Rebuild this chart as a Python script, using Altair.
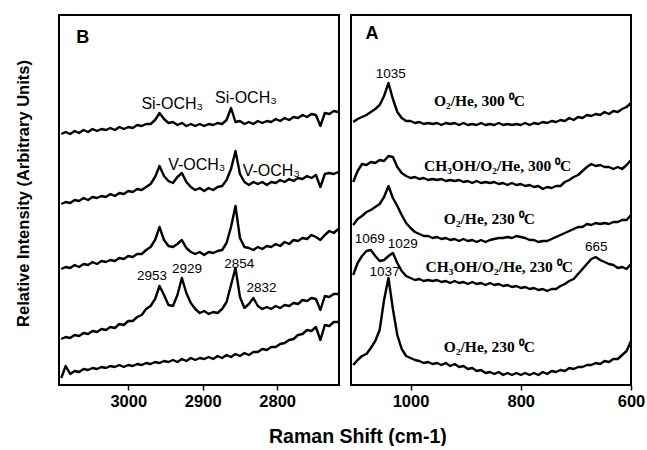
import altair as alt
import pandas as pd

# ---------------- data ----------------
# Panel B: C-H stretching region, sampled every 6 cm-1 from 3090 to 2718
WN_B = list(range(3090, 2717, -6))
B_1 = [251, 253, 251, 254, 252, 255, 253, 256, 254, 256,
       255, 257, 255, 258, 256, 258, 257, 260, 259, 261,
       261, 265, 272, 266, 262, 263, 260, 262, 259, 261,
       259, 261, 259, 261, 260, 262, 261, 265, 277, 263,
       264, 261, 263, 261, 264, 262, 264, 263, 266, 264,
       267, 265, 268, 267, 270, 268, 271, 270, 259, 272,
       271, 274, 273]
B_2 = [181, 183, 182, 185, 184, 187, 185, 188, 187, 189,
       188, 191, 189, 192, 191, 194, 193, 196, 195, 198,
       201, 208, 219, 209, 204, 202, 208, 212, 203, 198,
       195, 197, 194, 197, 195, 198, 199, 205, 216, 234,
       211, 203, 200, 203, 201, 203, 200, 203, 202, 205,
       203, 206, 204, 207, 206, 209, 207, 210, 198, 211,
       212, 211, 213]
B_3 = [116, 118, 117, 120, 118, 121, 120, 123, 121, 124,
       123, 125, 124, 127, 126, 129, 128, 131, 131, 135,
       138, 145, 158, 145, 139, 138, 141, 145, 137, 133,
       131, 133, 130, 133, 132, 134, 135, 142, 158, 179,
       147, 138, 137, 135, 138, 136, 139, 138, 141, 139,
       143, 141, 145, 144, 147, 146, 150, 148, 145, 150,
       154, 152, 156]
B_4 = [46, 48, 47, 50, 49, 52, 51, 54, 53, 56,
       55, 58, 57, 61, 60, 64, 64, 68, 70, 76,
       79, 86, 99, 90, 80, 79, 90, 107, 92, 82,
       76, 72, 74, 71, 73, 72, 76, 83, 100, 117,
       88, 77, 81, 87, 79, 76, 78, 76, 79, 77,
       80, 79, 82, 81, 85, 84, 87, 86, 75, 89,
       88, 91, 91]
B_5 = [7, 19, 11, 14, 13, 16, 15, 17, 16, 18,
       17, 19, 18, 20, 18, 20, 19, 21, 20, 22,
       21, 23, 22, 24, 23, 25, 23, 26, 24, 27,
       25, 27, 26, 28, 26, 29, 27, 30, 28, 31,
       29, 32, 30, 33, 33, 36, 35, 38, 38, 41,
       42, 45, 46, 50, 51, 55, 54, 58, 45, 60,
       59, 63, 63]

# Panel A: 1104 .. 600 cm-1 every 8 cm-1
WN_A = list(range(1104, 599, -8))
A_1 = [263, 266, 268, 270, 273, 276, 280, 289, 302, 286,
       273, 267, 264, 264, 262, 263, 261, 262, 261, 262,
       260, 262, 261, 262, 260, 262, 260, 261, 260, 262,
       260, 261, 260, 262, 260, 261, 260, 261, 260, 262,
       260, 262, 261, 263, 262, 264, 263, 265, 264, 267,
       265, 268, 267, 270, 269, 271, 270, 273, 271, 274,
       273, 276, 278, 282]
A_2 = [203, 214, 221, 220, 223, 222, 225, 224, 229, 228,
       218, 212, 209, 207, 208, 206, 207, 205, 206, 205,
       206, 204, 205, 204, 205, 203, 204, 202, 204, 202,
       203, 202, 203, 201, 202, 200, 202, 200, 201, 199,
       200, 198, 199, 196, 198, 197, 199, 199, 203, 205,
       208, 210, 214, 218, 221, 219, 220, 218, 218, 216,
       218, 216, 220, 225]
A_3 = [160, 166, 169, 173, 175, 178, 181, 188, 199, 187,
       179, 170, 162, 157, 153, 151, 149, 149, 147, 148,
       146, 147, 145, 146, 144, 146, 144, 145, 143, 145,
       143, 145, 146, 147, 147, 148, 147, 149, 148, 147,
       145, 145, 143, 144, 144, 146, 148, 150, 152, 154,
       156, 158, 158, 161, 160, 162, 161, 162, 161, 163,
       163, 165, 165, 170]
A_4 = [110, 122, 129, 134, 135, 129, 124, 125, 129, 132,
       122, 114, 109, 107, 105, 106, 104, 105, 104, 105,
       103, 104, 102, 104, 102, 103, 101, 103, 101, 102,
       100, 102, 100, 101, 99, 100, 98, 99, 97, 98,
       96, 97, 95, 96, 94, 96, 96, 99, 101, 104,
       106, 111, 116, 121, 126, 128, 125, 123, 121, 120,
       117, 118, 116, 121]
A_5 = [20, 25, 29, 31, 37, 44, 55, 85, 107, 76,
       50, 36, 29, 27, 25, 24, 22, 23, 21, 22,
       20, 22, 19, 21, 18, 19, 16, 17, 14, 15,
       12, 13, 11, 13, 10, 12, 10, 12, 10, 12,
       10, 12, 10, 13, 11, 14, 13, 15, 14, 17,
       16, 18, 18, 20, 20, 22, 21, 24, 23, 26,
       26, 30, 34, 44]

# annotations
B_LAB_TEXT = ["Si-OCH₃", "Si-OCH₃", "V-OCH₃", "V-OCH₃"]
B_LAB_WN = [2941, 2842, 2908, 2808]
B_LAB_I = [281, 287, 220, 214]
B_NUM_TEXT = ["2953", "2929", "2854", "2832"]
B_NUM_WN = [2968, 2921, 2851, 2821]
B_NUM_I = [109, 116, 121, 97]

A_LAB_TEXT = ["O₂/He, 300 ⁰C", "CH₃OH/O₂/He, 300 ⁰C", "O₂/He, 230 ⁰C",
              "CH₃OH/O₂/He, 230 ⁰C", "O₂/He, 230 ⁰C"]
A_LAB_WN = [875, 842, 857, 839, 857]
A_LAB_I = [284, 219, 166, 118, 38]
A_NUM_TEXT = ["1035", "1069", "1029", "1037", "665"]
A_NUM_WN = [1036, 1074, 1014, 1047, 663]
A_NUM_I = [311, 146, 141, 113, 138]

LETTERS = ["B", "A"]
LETTER_WN = [3061, 1070]
LETTER_I = [347, 351]

B_TICKS = [3000, 2900, 2800]
A_TICKS = [1000, 800, 600]

SANS = "Liberation Sans"
SERIF = "Liberation Serif"


def long_form(wn, traces):
    rows = []
    for name, vals in traces:
        for w, v in zip(wn, vals):
            rows.append({"wn": w, "I": v, "trace": name})
    return pd.DataFrame(rows)


def labels(texts, wns, ints):
    return pd.DataFrame({"wn": wns, "I": ints, "t": texts})


Y_SCALE = alt.Scale(domain=[0, 370], nice=False, zero=False)


def make_panel(wn, traces, xdom, ticks, lab_df, lab_font, lab_size, lab_weight,
               num_df, letter_df, yaxis):
    x_enc = alt.X(
        "wn:Q",
        scale=alt.Scale(domain=xdom, reverse=True, nice=False, zero=False),
        axis=alt.Axis(values=ticks, title=None, grid=False, domain=False,
                      tickSize=5, tickWidth=1.5, tickColor="black",
                      labelFont=SANS, labelFontSize=16.5, labelFontWeight="bold",
                      labelColor="black", labelPadding=3, labelFlush=False,
                      format="d"),
    )
    y_enc = alt.Y("I:Q", scale=Y_SCALE, axis=yaxis)
    lines = alt.Chart(long_form(wn, traces)).mark_line(
        color="black", strokeWidth=2.4, strokeJoin="round"
    ).encode(x=x_enc, y=y_enc, detail="trace:N")
    lab = alt.Chart(lab_df).mark_text(
        font=lab_font, fontSize=lab_size, fontWeight=lab_weight, color="black"
    ).encode(x=x_enc, y=y_enc, text="t:N")
    num = alt.Chart(num_df).mark_text(
        font=SANS, fontSize=13.5, color="black"
    ).encode(x=x_enc, y=y_enc, text="t:N")
    let = alt.Chart(letter_df).mark_text(
        font=SANS, fontSize=18, fontWeight="bold", color="black"
    ).encode(x=x_enc, y=y_enc, text="t:N")
    return alt.layer(lines, lab, num, let).properties(width=280, height=370)


y_axis_b = alt.Axis(title="Relative Intensity (Arbitrary Units)", labels=False,
                    ticks=False, domain=False, grid=False, titleFont=SANS,
                    titleFontSize=16.5, titleFontWeight="bold", titleColor="black",
                    titlePadding=28, titleY=178)

panel_b = make_panel(
    WN_B, [("1", B_1), ("2", B_2), ("3", B_3), ("4", B_4), ("5", B_5)],
    [2717, 3093], B_TICKS,
    labels(B_LAB_TEXT, B_LAB_WN, B_LAB_I), SANS, 16, "normal",
    labels(B_NUM_TEXT, B_NUM_WN, B_NUM_I),
    labels(LETTERS[:1], LETTER_WN[:1], LETTER_I[:1]),
    y_axis_b,
)
panel_a = make_panel(
    WN_A, [("1", A_1), ("2", A_2), ("3", A_3), ("4", A_4), ("5", A_5)],
    [600, 1108], A_TICKS,
    labels(A_LAB_TEXT, A_LAB_WN, A_LAB_I), SERIF, 15.5, "bold",
    labels(A_NUM_TEXT, A_NUM_WN, A_NUM_I),
    labels(LETTERS[1:], LETTER_WN[1:], LETTER_I[1:]),
    None,
)

chart = alt.hconcat(panel_b, panel_a, spacing=9).properties(
    title=alt.TitleParams(
        "Raman Shift (cm-1)", orient="bottom", anchor="middle",
        font=SANS, fontSize=19.5, fontWeight="bold", color="black",
        offset=17, dx=28,
    ),
    padding={"left": 14, "top": 14, "right": 0, "bottom": 0},
).configure_view(stroke="black", strokeWidth=2)

chart.save("out.html", embed_options={"renderer": "svg", "actions": False})
